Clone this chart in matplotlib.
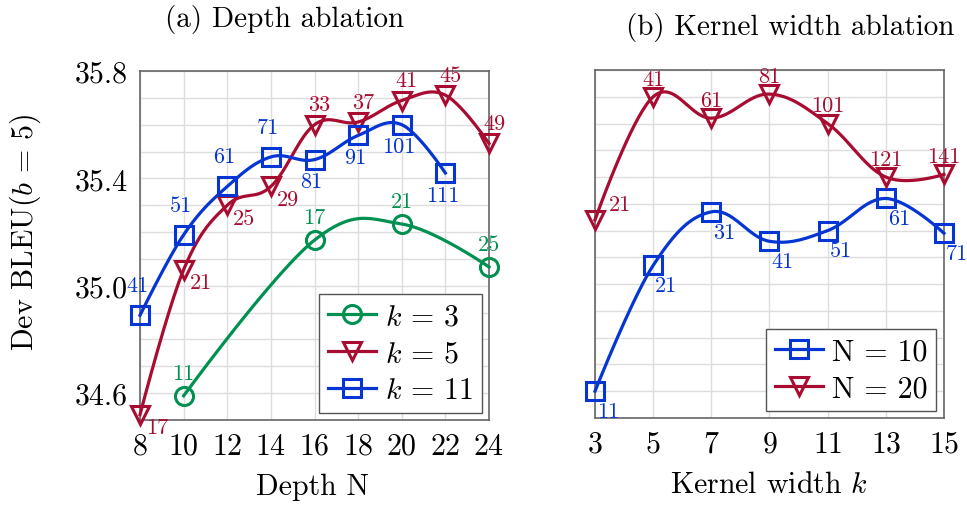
import numpy as np
import matplotlib
matplotlib.use("Agg")
import matplotlib.pyplot as plt

# (a) depth ablation
depth_k3 = [10, 16, 20, 24]
bleu_k3 = [34.59, 35.17, 35.23, 35.07]
params_k3 = ["11", "17", "21", "25"]

depth_k5 = [8, 10, 12, 14, 16, 18, 20, 22, 24]
bleu_k5 = [34.52, 35.06, 35.30, 35.37, 35.60, 35.61, 35.69, 35.71, 35.53]
params_k5 = ["17", "21", "25", "29", "33", "37", "41", "45", "49"]

depth_k11 = [8, 10, 12, 14, 16, 18, 20, 22]
bleu_k11 = [34.89, 35.19, 35.37, 35.48, 35.47, 35.56, 35.60, 35.42]
params_k11 = ["41", "51", "61", "71", "81", "91", "101", "111"]

# (b) kernel width ablation
kernel = [3, 5, 7, 9, 11, 13, 15]
bleu_n10 = [34.60, 35.07, 35.27, 35.16, 35.20, 35.32, 35.19]
params_n10 = ["11", "21", "31", "41", "51", "61", "71"]
bleu_n20 = [35.24, 35.70, 35.62, 35.71, 35.60, 35.40, 35.41]
params_n20 = ["21", "41", "61", "81", "101", "121", "141"]

GREEN = "#009150"
RED = "#a80c30"
BLUE = "#0535d2"

plt.rcParams["font.family"] = "serif"
plt.rcParams["font.serif"] = ["cmr10"]
plt.rcParams["mathtext.fontset"] = "cm"
plt.rcParams["axes.formatter.use_mathtext"] = True


def smooth(xs, ys, tension=0.55, n=40):
    """cubic bezier through the points, like tikz 'smooth'"""
    p = np.column_stack([xs, ys]).astype(float)
    m = len(p)
    d = np.zeros_like(p)
    for i in range(1, m - 1):
        d[i] = p[i + 1] - p[i - 1]
    f = tension / 3.0
    t = np.linspace(0, 1, n)[:, None]
    out = []
    for i in range(m - 1):
        p0, p3 = p[i], p[i + 1]
        c1 = p0 + f * d[i]
        c2 = p3 - f * d[i + 1]
        seg = ((1 - t) ** 3) * p0 + 3 * ((1 - t) ** 2) * t * c1 \
            + 3 * (1 - t) * t ** 2 * c2 + t ** 3 * p3
        out.append(seg if i == 0 else seg[1:])
    out = np.vstack(out)
    return out[:, 0], out[:, 1]


def series(ax, xs, ys, color, marker, label):
    sx, sy = smooth(xs, ys)
    ax.plot(sx, sy, color=color, lw=2.3, zorder=3, clip_on=False)
    ax.plot(xs, ys, ls="none", marker=marker, ms=13, mfc="none",
            mec=color, mew=2.2, zorder=4, clip_on=False)
    # dummy for legend
    ax.plot([], [], color=color, lw=2.3, marker=marker, ms=13, mfc="none",
            mec=color, mew=2.2, label=label)


def annotate(ax, xs, ys, texts, color, offsets):
    for x, y, s, off in zip(xs, ys, texts, offsets):
        ax.annotate(s, (x, y), xytext=off, textcoords="offset pixels",
                    ha="center", va="center", color=color, fontsize=16,
                    zorder=5, annotation_clip=False)


def style(ax):
    ax.set_ylim(34.5, 35.8)
    ax.set_yticks(np.arange(34.5, 35.81, 0.1), minor=True)
    ax.grid(True, which="both", color="#dddddd", lw=1.0, zorder=0)
    ax.set_axisbelow(True)
    ax.tick_params(which="both", length=0, labelsize=21.5, pad=9)
    for sp in ax.spines.values():
        sp.set_color("#666666")
        sp.set_linewidth(1.2)


fig = plt.figure(figsize=(9.67, 5.06), dpi=100)
ax1 = fig.add_axes([0.1448, 0.168, 0.3609, 0.6897])
ax2 = fig.add_axes([0.6153, 0.172, 0.3609, 0.6877])

# ---- panel (a)
series(ax1, depth_k3, bleu_k3, GREEN, "o", r"$k$ = 3")
series(ax1, depth_k5, bleu_k5, RED, "v", r"$k$ = 5")
series(ax1, depth_k11, bleu_k11, BLUE, "s", r"$k$ = 11")

annotate(ax1, depth_k3, bleu_k3, params_k3, GREEN, [(0, 23)] * 4)
red_off = [(17, -13)] * 4 + [(5, 20)] * 5
annotate(ax1, depth_k5, bleu_k5, params_k5, RED, red_off)
blue_off = [(-3, 30)] * 4 + [(-3, -22)] * 4
annotate(ax1, depth_k11, bleu_k11, params_k11, BLUE, blue_off)

style(ax1)
ax1.set_xlim(8, 24)
ax1.set_xticks(range(8, 25, 2))
ax1.set_yticks([34.6, 35.0, 35.4, 35.8])
ax1.set_yticklabels(["34.6", "35.0", "35.4", "35.8"])

leg = ax1.legend(loc="lower right", bbox_to_anchor=(0.98, 0.02),
                 borderaxespad=0, fontsize=21.5, fancybox=False,
                 framealpha=1, edgecolor="#555555", handlelength=1.6,
                 handletextpad=0.3, labelspacing=0.32, borderpad=0.3)
leg.get_frame().set_linewidth(1.0)

# ---- panel (b)
series(ax2, kernel, bleu_n10, BLUE, "s", "N = 10")
series(ax2, kernel, bleu_n20, RED, "v", "N = 20")

annotate(ax2, kernel, bleu_n10, params_n10, BLUE, [(13, -20)] * 7)
annotate(ax2, kernel, bleu_n20, params_n20, RED, [(25, 16)] + [(0, 18)] * 6)

style(ax2)
ax2.set_xlim(3, 15)
ax2.set_xticks(range(3, 16, 2))
ax2.set_yticks([34.6, 35.0, 35.4, 35.8])
ax2.set_yticklabels([])

leg2 = ax2.legend(loc="lower right", bbox_to_anchor=(0.977, 0.02),
                  borderaxespad=0, fontsize=21.5, fancybox=False,
                  framealpha=1, edgecolor="#555555", handlelength=1.6,
                  handletextpad=0.3, labelspacing=0.32, borderpad=0.3)
leg2.get_frame().set_linewidth(1.0)

# titles and axis labels
fig.text(285 / 967, 1 - 20 / 506, "(a) Depth ablation", ha="center",
         va="center", fontsize=21)
fig.text(790 / 967, 1 - 27 / 506, "(b) Kernel width ablation", ha="center",
         va="center", fontsize=21)
fig.text(313 / 967, 1 - 487 / 506, "Depth N", ha="center", va="center",
         fontsize=21.5)
fig.text(769 / 967, 1 - 485 / 506, r"Kernel width $k$", ha="center",
         va="center", fontsize=21.5)
fig.text(25 / 967, 1 - 232 / 506, r"Dev BLEU($b$ = 5)", ha="center",
         va="center", rotation=90, fontsize=21.5)

fig.savefig("out.png", dpi=100)
